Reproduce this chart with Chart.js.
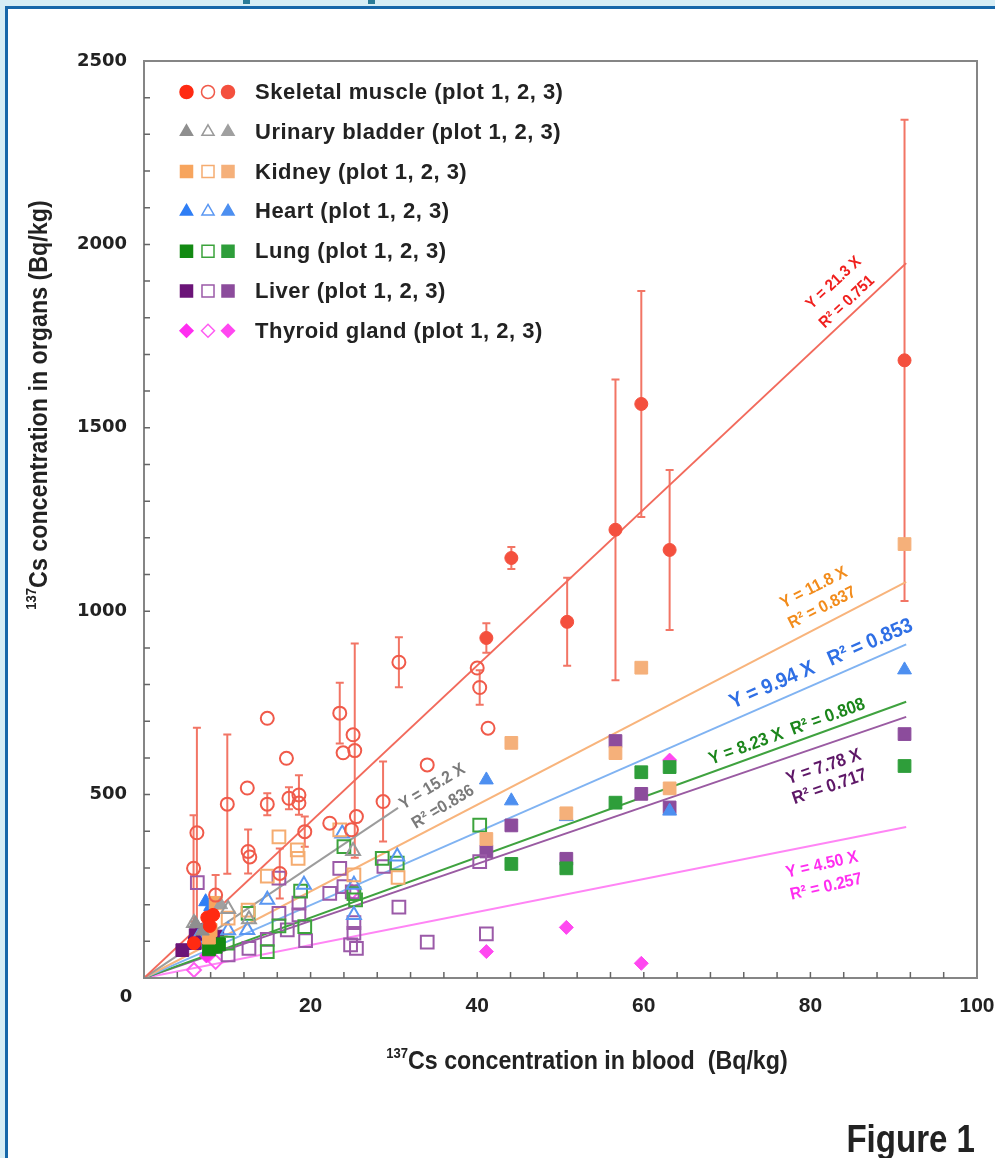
<!DOCTYPE html>
<html>
<head>
<meta charset="utf-8">
<script src="https://cdn.jsdelivr.net/npm/chart.js@4.4.1/dist/chart.umd.min.js"></script>
<style>
  html, body { margin: 0; padding: 0; }
  body { width: 995px; height: 1158px; background: #d6edf5; position: relative; overflow: hidden; }
  #panel { position: absolute; left: 5px; top: 6px; width: 1010px; height: 1170px; background: #fff;
           border-left: 3px solid #1767a9; border-top: 3px solid #1767a9; }
  .mark { position: absolute; top: 0; height: 4px; width: 7px; background: #2a7b98; }
  #chart { position: absolute; left: 0; top: 0; }
</style>
</head>
<body>
<div class="mark" style="left:243px"></div>
<div class="mark" style="left:368px"></div>
<div id="panel"></div>
<canvas id="chart" width="995" height="1158"></canvas>
<script>
// [blood Bq/kg, organ Bq/kg, error]
const musclePlot1 = [[6.0, 95], [7.6, 165], [8.3, 172], [7.9, 142]];
const musclePlot2 = [[5.95, 299, 145], [6.35, 396, 286], [8.6, 226, 55], [10.0, 474, 190], [12.4, 518, 0],
  [12.5, 345, 60], [12.7, 330, 0], [14.8, 708, 0], [14.8, 474, 30], [16.3, 285, 68], [17.1, 599, 0],
  [17.4, 490, 30], [18.6, 499, 54], [18.6, 477, 0], [19.3, 399, 41], [22.3, 422, 0], [23.5, 722, 83],
  [23.9, 614, 0], [25.1, 663, 0], [25.3, 620, 292], [25.5, 440, 0], [24.9, 404, 0], [28.7, 481, 109],
  [30.6, 861, 68], [34.0, 581, 0], [40.0, 845, 0], [40.3, 792, 47], [41.3, 681, 0]];
const musclePlot3 = [[41.1, 927, 40], [44.1, 1145, 30], [50.8, 971, 120], [56.6, 1222, 410],
  [59.7, 1565, 308], [63.1, 1167, 218], [91.3, 1684, 656]];

const bladderPlot1 = [[6.2, 148], [7.0, 128]];
const bladderPlot2 = [[6.0, 150], [10.1, 188], [12.6, 160], [25.1, 346]];
const bladderPlot3 = [[9.2, 200]];

const kidneyPlot1 = [[8.6, 205], [8.0, 131], [7.8, 110]];
const kidneyPlot2 = [[10.1, 163], [12.5, 185], [14.8, 278], [16.2, 385], [18.4, 349], [18.5, 326],
  [23.5, 404], [25.2, 281], [30.5, 274]];
const kidneyPlot3 = [[41.1, 379], [44.1, 641], [50.7, 449], [56.6, 613], [59.7, 846], [63.1, 517], [91.3, 1183]];

const heartPlot1 = [[7.4, 208], [8.0, 195]];
const heartPlot2 = [[6.5, 110], [10.1, 130], [12.4, 131], [14.8, 213], [19.2, 254], [23.8, 394],
  [25.2, 254], [25.2, 172], [30.4, 331]];
const heartPlot3 = [[41.1, 540], [44.1, 483], [50.7, 440], [63.1, 455], [91.3, 840]];

const lungPlot1 = [[7.8, 78], [8.6, 85], [9.0, 92]];
const lungPlot2 = [[10.0, 95], [12.5, 176], [14.8, 72], [16.2, 142], [18.8, 237], [19.3, 140],
  [24.0, 358], [25.2, 230], [25.4, 213], [28.6, 326], [30.4, 313], [40.3, 417]];
const lungPlot3 = [[44.1, 311], [50.7, 299], [56.6, 478], [59.7, 561], [63.1, 575], [91.3, 578]];

const liverPlot1 = [[4.6, 76], [6.1, 95], [6.2, 117], [7.0, 130], [8.8, 113]];
const liverPlot2 = [[6.4, 260], [10.1, 63], [12.6, 81], [14.8, 105], [16.2, 272], [16.2, 176],
  [17.2, 131], [18.6, 204], [18.6, 172], [19.4, 102], [22.3, 231], [23.5, 299], [24.0, 249],
  [25.0, 235], [24.8, 90], [25.5, 81], [25.2, 151], [25.2, 122], [28.8, 304], [30.6, 193],
  [34.0, 98], [40.3, 317], [41.1, 120]];
const liverPlot3 = [[41.1, 345], [44.1, 416], [50.7, 325], [56.6, 646], [59.7, 502], [63.1, 465], [91.3, 665]];

const thyroidPlot1 = [[7.5, 60]];
const thyroidPlot2 = [[6.0, 22], [8.6, 44], [25.0, 235]];
const thyroidPlot3 = [[41.1, 72], [50.7, 138], [59.7, 40], [63.1, 594]];

// regression lines through origin
const fitSlopes = [21.3, 15.2, 11.8, 9.94, 8.23, 7.78, 4.50];
const fitEndX = [91.5, 30.5, 91.5, 91.5, 91.5, 91.5, 91.5];
const fitColors = ["#f26a5c", "#9c9c9c", "#f8b47c", "#80b3f2", "#3fa23f", "#9a5ba2", "#ff85f5"];

const xTicks = [0, 20, 40, 60, 80, 100];
const yTicks = [0, 500, 1000, 1500, 2000, 2500];

const organs = [
  { label: "Skeletal muscle (plot 1, 2, 3)", style: "circle", r: 6.5, lr: 6.5,
    colors: ["#ff2a12", "#f05a4a", "#f4503e"], plots: [musclePlot1, musclePlot2, musclePlot3] },
  { label: "Urinary bladder (plot 1, 2, 3)", style: "triangle", r: 8, lr: 7,
    colors: ["#8f8f8f", "#9a9a9a", "#a0a0a0"], plots: [bladderPlot1, bladderPlot2, bladderPlot3] },
  { label: "Kidney (plot 1, 2, 3)", style: "rect", r: 9, lr: 8.5,
    colors: ["#f7a55e", "#f5ac70", "#f5b07a"], plots: [kidneyPlot1, kidneyPlot2, kidneyPlot3] },
  { label: "Heart (plot 1, 2, 3)", style: "triangle", r: 8, lr: 7,
    colors: ["#2f7ef5", "#5a97f2", "#4d8ff0"], plots: [heartPlot1, heartPlot2, heartPlot3] },
  { label: "Lung (plot 1, 2, 3)", style: "rect", r: 9, lr: 8.5,
    colors: ["#138a13", "#3ca33c", "#2e9e3a"], plots: [lungPlot1, lungPlot2, lungPlot3] },
  { label: "Liver (plot 1, 2, 3)", style: "rect", r: 9, lr: 8.5,
    colors: ["#6b1478", "#9b5aa8", "#8c4c9c"], plots: [liverPlot1, liverPlot2, liverPlot3] },
  { label: "Thyroid gland (plot 1, 2, 3)", style: "rectRot", r: 7, lr: 6.5,
    colors: ["#ff2ef0", "#ff5cf2", "#ff48f0"], plots: [thyroidPlot1, thyroidPlot2, thyroidPlot3] }
];

// equation labels, placed in data coordinates
const eqLabels = [
  { t: "Y = 21.3 X", x: 82.8, y: 1895, a: -43, c: "#f0201e", f: 16 },
  { t: "R\u00b2 = 0.751", x: 84.4, y: 1843, a: -43, c: "#f0201e", f: 16 },
  { t: "Y = 15.2 X", x: 34.6, y: 521, a: -31, c: "#7a7a7a", f: 17 },
  { t: "R\u00b2 =0.836", x: 35.9, y: 466, a: -31, c: "#7a7a7a", f: 17 },
  { t: "Y = 11.8 X", x: 80.4, y: 1064, a: -27, c: "#f28c1c", f: 17 },
  { t: "R\u00b2 = 0.837", x: 81.4, y: 1009, a: -27, c: "#f28c1c", f: 17 },
  { t: "Y = 9.94 X   R\u00b2 = 0.853", x: 81.3, y: 856, a: -23.5, c: "#2f6fe5", f: 21 },
  { t: "Y = 8.23 X  R\u00b2 = 0.808", x: 77.2, y: 671, a: -20, c: "#1b861b", f: 18 },
  { t: "Y = 7.78 X", x: 81.6, y: 575, a: -19, c: "#5e1767", f: 18 },
  { t: "R\u00b2 = 0.717", x: 82.3, y: 521, a: -19, c: "#5e1767", f: 18 },
  { t: "Y = 4.50 X", x: 81.4, y: 308, a: -13, c: "#ff2ef0", f: 17 },
  { t: "R\u00b2 = 0.257", x: 81.9, y: 248, a: -13, c: "#ff2ef0", f: 17 }
];

const SANS = "'Liberation Sans', Arial, Helvetica, sans-serif";

const datasets = [];
organs.forEach(o => {
  o.plots.forEach((pts, k) => {
    const open = k === 1;
    datasets.push({
      type: "scatter",
      label: o.label + " " + (k + 1),
      data: pts.map(p => ({ x: p[0], y: p[1], e: p[2] || 0 })),
      pointStyle: o.style,
      pointRadius: o.r,
      pointHoverRadius: o.r,
      backgroundColor: open ? "rgba(255,255,255,0)" : o.colors[k],
      borderColor: o.colors[k],
      borderWidth: open ? 2 : 1,
      order: 1
    });
  });
});
fitSlopes.forEach((s, i) => {
  datasets.push({
    type: "line",
    label: "fit " + s,
    data: [{ x: 0, y: 0 }, { x: fitEndX[i], y: s * fitEndX[i] }],
    borderColor: fitColors[i],
    borderWidth: 2,
    pointRadius: 0,
    fill: false,
    order: 5
  });
});

const errorBars = {
  id: "errorBars",
  beforeDatasetsDraw(chart) {
    const { ctx, scales: { x, y } } = chart;
    ctx.save();
    ctx.strokeStyle = "#f27565";
    ctx.lineWidth = 2;
    chart.data.datasets.forEach(ds => {
      if (ds.type === "line") return;
      ds.data.forEach(p => {
        if (!p.e) return;
        const px = x.getPixelForValue(p.x);
        const top = y.getPixelForValue(p.y + p.e);
        const bot = y.getPixelForValue(p.y - p.e);
        ctx.beginPath();
        ctx.moveTo(px, top); ctx.lineTo(px, bot);
        ctx.moveTo(px - 4, top); ctx.lineTo(px + 4, top);
        ctx.moveTo(px - 4, bot); ctx.lineTo(px + 4, bot);
        ctx.stroke();
      });
    });
    ctx.restore();
  }
};

// condensed bold text with a small superscript prefix, centred on (cx, cy)
function supText(ctx, cx, cy, sup, main, size, squeeze) {
  ctx.save();
  ctx.translate(cx, cy);
  ctx.scale(squeeze, 1);
  ctx.font = "bold " + Math.round(size * 0.55) + "px " + SANS;
  const w1 = ctx.measureText(sup).width;
  ctx.font = "bold " + size + "px " + SANS;
  const w2 = ctx.measureText(main).width;
  const x0 = -(w1 + w2) / 2;
  ctx.textAlign = "left";
  ctx.textBaseline = "middle";
  ctx.fillText(main, x0 + w1, 0);
  ctx.font = "bold " + Math.round(size * 0.55) + "px " + SANS;
  ctx.fillText(sup, x0, -size * 0.3);
  ctx.restore();
}

const decor = {
  id: "decor",
  afterDraw(chart) {
    const { ctx, chartArea: a, scales: { x, y } } = chart;
    ctx.save();
    // frame
    ctx.strokeStyle = "#858585";
    ctx.lineWidth = 2;
    ctx.strokeRect(a.left, a.top, a.right - a.left, a.bottom - a.top);
    // inward minor ticks
    ctx.lineWidth = 1.5;
    ctx.strokeStyle = "#666";
    ctx.beginPath();
    for (let v = 100; v < 2500; v += 100) {
      const py = y.getPixelForValue(v);
      ctx.moveTo(a.left, py); ctx.lineTo(a.left + 6, py);
    }
    for (let v = 4; v < 100; v += 4) {
      const px = x.getPixelForValue(v);
      ctx.moveTo(px, a.bottom); ctx.lineTo(px, a.bottom - 6);
    }
    ctx.stroke();

    ctx.fillStyle = "#222";
    // shared zero label
    ctx.font = "bold 18px 'DejaVu Sans', sans-serif";
    ctx.textAlign = "center";
    ctx.textBaseline = "middle";
    ctx.fillText("0", a.left - 18, a.bottom + 19);

    // axis titles
    supText(ctx, 587, 1062, "137", "Cs concentration in blood  (Bq/kg)", 25, 0.93);
    ctx.save();
    ctx.translate(40, 405);
    ctx.rotate(-Math.PI / 2);
    supText(ctx, 0, 0, "137", "Cs concentration in organs (Bq/kg)", 25, 0.93);
    ctx.restore();

    // legend
    const lx = [186.5, 208, 228];
    organs.forEach((o, i) => {
      const ly = 92 + i * 39.8;
      o.colors.forEach((c, k) => {
        ctx.fillStyle = k === 1 ? "#fff" : c;
        ctx.strokeStyle = c;
        Chart.helpers.drawPoint(ctx, { pointStyle: o.style, radius: o.lr, rotation: 0, borderWidth: k === 1 ? 1.6 : 1 }, lx[k], ly);
      });
      ctx.fillStyle = "#222";
      ctx.font = "bold 22px " + SANS;
      ctx.letterSpacing = "0.5px";
      ctx.textAlign = "left";
      ctx.textBaseline = "middle";
      ctx.fillText(o.label, 255, ly + 1);
      ctx.letterSpacing = "0px";
    });

    // equations
    eqLabels.forEach(l => {
      ctx.save();
      ctx.translate(x.getPixelForValue(l.x), y.getPixelForValue(l.y));
      ctx.rotate(l.a * Math.PI / 180);
      ctx.scale(0.92, 1);
      ctx.fillStyle = l.c;
      ctx.font = "bold " + l.f + "px " + SANS;
      ctx.textAlign = "center";
      ctx.textBaseline = "middle";
      ctx.fillText(l.t, 0, 0);
      ctx.restore();
    });

    // figure caption
    ctx.save();
    ctx.translate(975, 1152);
    ctx.scale(0.87, 1);
    ctx.fillStyle = "#222";
    ctx.font = "bold 38px " + SANS;
    ctx.textAlign = "right";
    ctx.textBaseline = "alphabetic";
    ctx.fillText("Figure 1", 0, 0);
    ctx.restore();
    ctx.restore();
  }
};

new Chart(document.getElementById("chart").getContext("2d"), {
  type: "scatter",
  data: { datasets },
  options: {
    responsive: false,
    animation: false,
    devicePixelRatio: 1,
    layout: { padding: { left: 0, top: 61, right: 18, bottom: 0 } },
    plugins: { legend: { display: false }, tooltip: { enabled: false } },
    events: [],
    scales: {
      x: {
        type: "linear", min: 0, max: 100,
        afterFit: s => { s.height = 1158 - 978; s.paddingLeft = 0; s.paddingRight = 0; },
        afterBuildTicks: s => { s.ticks = xTicks.map(v => ({ value: v })); },
        grid: { display: false, drawTicks: false },
        border: { display: false },
        ticks: {
          autoSkip: false, maxRotation: 0, padding: 16, color: "#222",
          font: { family: SANS, weight: "bold", size: 21 },
          callback: v => (v === 0 ? "" : v)
        }
      },
      y: {
        type: "linear", min: 0, max: 2500,
        afterFit: s => { s.width = 144; s.paddingTop = 0; s.paddingBottom = 0; },
        afterBuildTicks: s => { s.ticks = yTicks.map(v => ({ value: v })); },
        grid: { display: false, drawTicks: false },
        border: { display: false },
        ticks: {
          autoSkip: false, padding: 17, color: "#222",
          font: { family: "'DejaVu Sans', sans-serif", weight: "bold", size: 18 },
          callback: v => (v === 0 ? "" : v)
        }
      }
    }
  },
  plugins: [errorBars, decor]
});
</script>
</body>
</html>
